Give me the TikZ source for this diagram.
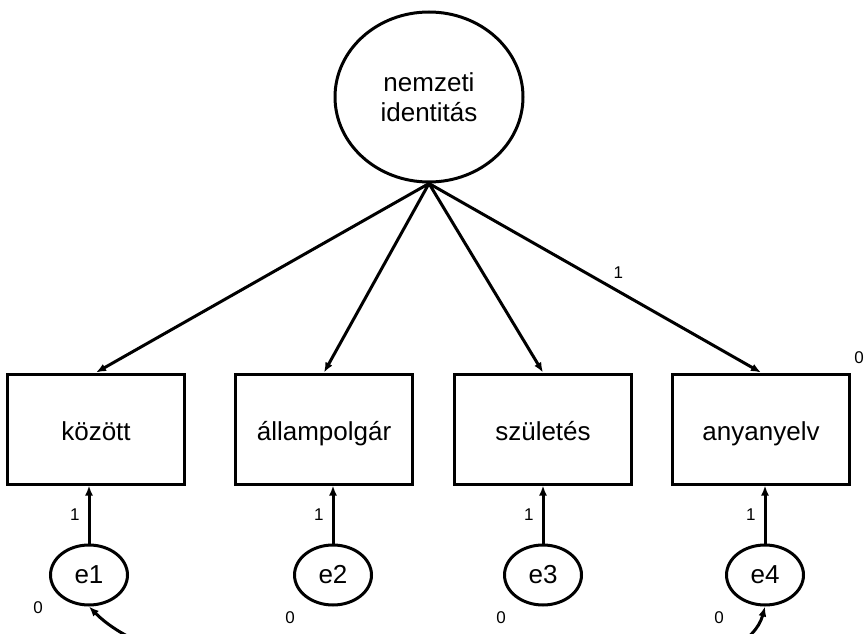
\documentclass[tikz,border=0pt]{standalone}
\usepackage{fontspec}
\setmainfont{Liberation Sans}
\usetikzlibrary{arrows.meta, shapes}

\begin{document}
\begin{tikzpicture}[x=1pt, y=-1pt, line width=3pt,
    every node/.style={font=\fontsize{26}{30}\selectfont},
    latent/.style={draw, ellipse, minimum width=188pt, minimum height=170pt, 
    inner sep=0pt, align=center},
    obs/.style={draw, rectangle, minimum width=177pt, minimum height=110pt, 
    inner sep=0pt, text height=22pt, text depth=0pt},
    err/.style={draw, ellipse, minimum width=77pt, minimum height=60pt, 
    inner sep=0pt},
    val/.style={font=\fontsize{17}{20}\selectfont, inner sep=0pt},
    arr/.style={-{Latex[length=10pt,width=8pt]}}]
        \useasboundingbox (0,0) rectangle (865,634);
        \node[latent] (nemzeti) at (429,97) {nemzeti\\identitás};
        \foreach \name/\x/\txt in {kozott/96/között, 
        allampolgar/324/állampolgár, szuletes/543/születés, 
        anyanyelv/761/anyanyelv}
        \node[obs] (\name) at (\x,429) {\txt};
        \foreach \i/\x in {1/89, 2/333, 3/543, 4/765}
        \node[err] (e\i) at (\x,575) {e\i};
        \foreach \name in {kozott, allampolgar, szuletes}
        \draw[arr] (nemzeti.south) -- (\name.north);
        \draw[arr] (nemzeti.south) -- (anyanyelv.north) 
        node[val, pos=0.57, above=11pt] {1};
        \foreach \name/\i in {kozott/1, allampolgar/2, szuletes/3, 
        anyanyelv/4}
        \draw[arr] (e\i.north) -- (e\i.north |- \name.south) 
        node[val, midway, left=8pt] {1};
        \foreach \i/\x/\y in {1/38/608, 2/290/618, 3/501/618, 4/719/618}
        \node[val] (z\i) at (\x,\y) {0};
        \node[val] (z5) at (859,358) {0};
        \draw[{Latex[length=10pt,width=8pt]}-{Latex[length=10pt,width=8pt]}] 
        (e1.south) .. controls (200,720) and (735,720) .. (e4.south);
    \end{tikzpicture}
\end{document}
